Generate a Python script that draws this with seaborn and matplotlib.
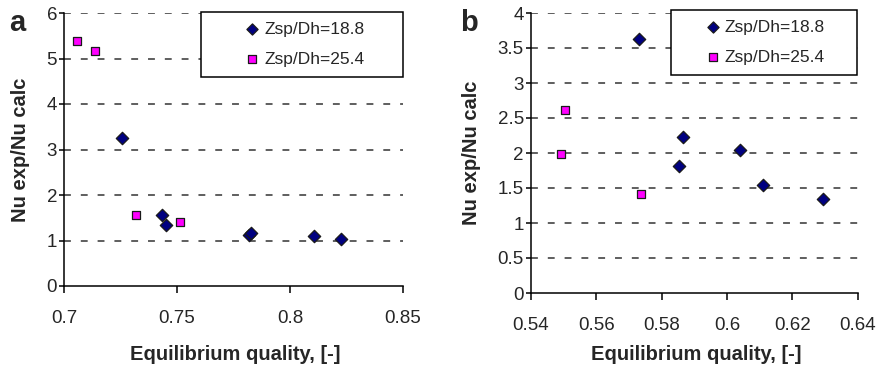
import pandas as pd
import matplotlib.pyplot as plt
import seaborn as sns

# panel a
a_x_188 = [0.7256, 0.7435, 0.7451, 0.7820, 0.7828, 0.8104, 0.8226]
a_y_188 = [3.25, 1.55, 1.35, 1.11, 1.17, 1.095, 1.04]
a_x_254 = [0.7059, 0.7139, 0.7320, 0.7513]
a_y_254 = [5.38, 5.17, 1.555, 1.40]

# panel b
b_x_188 = [0.5731, 0.5866, 0.5854, 0.6041, 0.6111, 0.6295]
b_y_188 = [3.63, 2.23, 1.82, 2.05, 1.54, 1.35]
b_x_254 = [0.5504, 0.5491, 0.5737]
b_y_254 = [2.62, 1.99, 1.42]

lab1 = "Zsp/Dh=18.8"
lab2 = "Zsp/Dh=25.4"

def make_df(x1, y1, x2, y2):
    return pd.DataFrame({
        "x": x1 + x2,
        "y": y1 + y2,
        "series": [lab1] * len(x1) + [lab2] * len(x2),
    })

sns.set_style("white")
plt.rcParams["font.family"] = ["Liberation Sans", "DejaVu Sans"]

fig = plt.figure(figsize=(8.76, 3.66), dpi=100)
ax_a = fig.add_axes([0.0731, 1 - 286 / 366, 0.387, (286 - 13) / 366])
ax_b = fig.add_axes([0.606, 1 - 293 / 366, 0.373, (293 - 13) / 366])

palette = {lab1: "#000080", lab2: "#FF00FF"}
markers = {lab1: "D", lab2: "s"}
sizes = {lab1: 40, lab2: 38}

def panel(ax, df, xlim, xticks, ylim, yticks, letter, leg_box, hl, htp):
    for name in [lab1, lab2]:
        sub = df[df["series"] == name]
        sns.scatterplot(data=sub, x="x", y="y", ax=ax, color=palette[name],
                        marker=markers[name], s=sizes[name], edgecolor="#1a1a1a",
                        linewidth=0.9, label=name, zorder=3)
    ax.set_xlim(*xlim)
    ax.set_ylim(*ylim)
    ax.set_xticks(xticks)
    ax.set_xticklabels([f"{v:g}" for v in xticks], fontsize=13.5)
    ax.set_yticks(yticks)
    ax.set_yticklabels([f"{v:g}" for v in yticks], fontsize=13.5)
    for v in yticks[1:]:
        ax.axhline(v, color="#333333", linestyle=(0, (4.5, 6.5)), linewidth=1.1, zorder=1)
    sns.despine(ax=ax)
    for s in ["left", "bottom"]:
        ax.spines[s].set_color("black")
        ax.spines[s].set_linewidth(1.1)
    ax.tick_params(axis="x", direction="out", length=5, width=1.1,
                   color="black", bottom=True, pad=12)
    ax.tick_params(axis="y", direction="out", length=3.5, width=1.1,
                   color="black", left=True, pad=1.5)
    xl = ax.set_xlabel("Equilibrium quality, [-]", fontsize=14.5, fontweight="bold")
    xl.set_va("center")
    pos = ax.get_position()
    ax.xaxis.set_label_coords((pos.x0 + pos.x1) / 2 + 2 / 876, 1 - 354 / 366,
                              transform=fig.transFigure)
    ax.set_ylabel("Nu exp/Nu calc", fontsize=14.5, fontweight="bold", labelpad=12)
    ax.text(letter[0], letter[1], letter[2], transform=fig.transFigure,
            fontsize=21, fontweight="bold", va="top", ha="left")
    x0, top, w = leg_box
    leg = ax.legend(loc="upper left", bbox_to_anchor=(x0, top - 0.2, w, 0.2),
                    bbox_transform=fig.transFigure,
                    mode="expand", frameon=True, fancybox=False, fontsize=12.5,
                    borderpad=0.55, labelspacing=0.87, handlelength=hl,
                    handletextpad=htp, borderaxespad=0, markerscale=0.9)
    frame = leg.get_frame()
    frame.set_edgecolor("black")
    frame.set_linewidth(1.1)
    frame.set_alpha(1)

df_a = make_df(a_x_188, a_y_188, a_x_254, a_y_254)
df_b = make_df(b_x_188, b_y_188, b_x_254, b_y_254)

panel(ax_a, df_a, (0.7, 0.85), [0.7, 0.75, 0.8, 0.85],
      (0, 6), [0, 1, 2, 3, 4, 5, 6],
      (0.010, 0.975, "a"), (201 / 876, 1 - 12 / 366, 202 / 876), 4.78, -1.70)
panel(ax_b, df_b, (0.54, 0.64), [0.54, 0.56, 0.58, 0.6, 0.62, 0.64],
      (0, 4), [0, 0.5, 1, 1.5, 2, 2.5, 3, 3.5, 4],
      (0.525, 0.975, "b"), (671 / 876, 1 - 10 / 366, 186 / 876), 3.74, -1.18)

fig.savefig("out.png", dpi=100)
